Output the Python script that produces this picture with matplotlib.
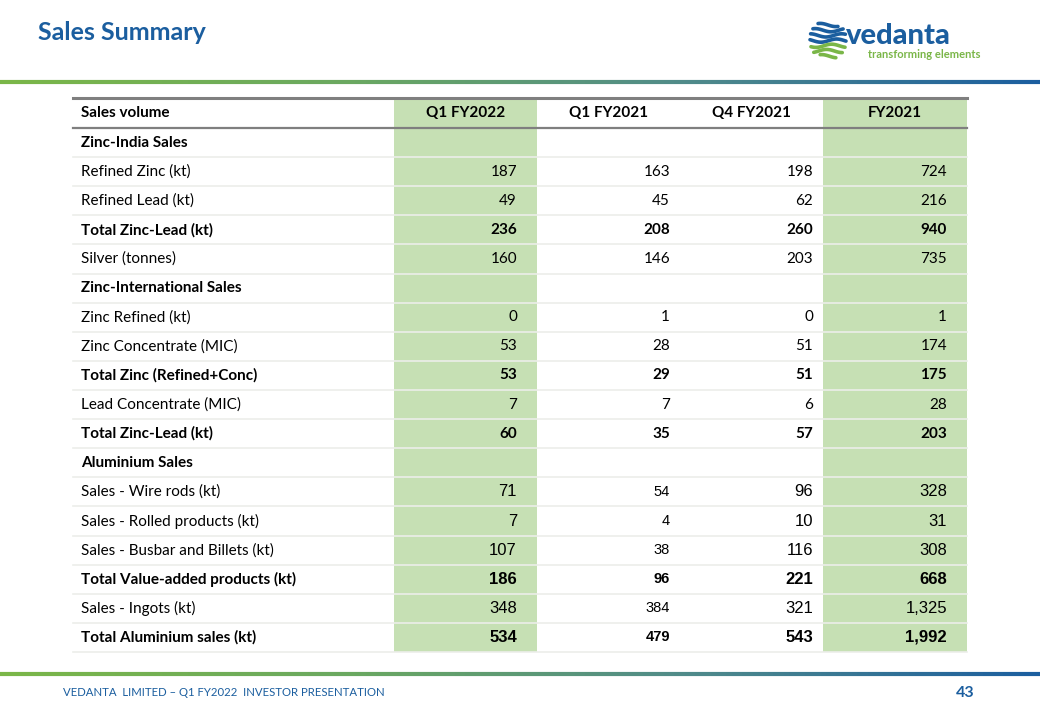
"""Sales summary slide rebuilt as a matplotlib table figure."""
import numpy as np
import matplotlib
matplotlib.use("Agg")
import matplotlib.pyplot as plt
from matplotlib.patches import Rectangle
from matplotlib.collections import LineCollection

# ---- data -------------------------------------------------------------
columns = ["Q1 FY2022", "Q1 FY2021", "Q4 FY2021", "FY2021"]
row_labels = [
    "Zinc-India Sales", "Refined Zinc (kt)", "Refined Lead (kt)",
    "Total Zinc-Lead (kt)", "Silver (tonnes)", "Zinc-International Sales",
    "Zinc Refined (kt)", "Zinc Concentrate (MIC)", "Total Zinc (Refined+Conc)",
    "Lead Concentrate (MIC)", "Total Zinc-Lead (kt)", "Aluminium Sales",
    "Sales - Wire rods (kt)", "Sales - Rolled products (kt)",
    "Sales - Busbar and Billets (kt)", "Total Value-added products (kt)",
    "Sales - Ingots (kt)", "Total Aluminium sales (kt)",
]
q1_fy2022 = ["", "187", "49", "236", "160", "", "0", "53", "53", "7", "60", "",
             "71", "7", "107", "186", "348", "534"]
q1_fy2021 = ["", "163", "45", "208", "146", "", "1", "28", "29", "7", "35", "",
             "54", "4", "38", "96", "384", "479"]
q4_fy2021 = ["", "198", "62", "260", "203", "", "0", "51", "51", "6", "57", "",
             "96", "10", "116", "221", "321", "543"]
fy2021 = ["", "724", "216", "940", "735", "", "1", "174", "175", "28", "203", "",
          "328", "31", "308", "668", "1,325", "1,992"]
bold_rows = [0, 3, 5, 8, 10, 11, 15, 17]
aluminium_rows = [12, 13, 14, 15, 16, 17]

BLUE = "#1b5e9f"
GREEN = "#7ab648"
CELL_GREEN = "#c6e0b4"
LABEL_FONT = ["Lato", "DejaVu Sans"]
NUM_FONT = ["Liberation Sans", "DejaVu Sans"]

W, H = 1040, 720
fig = plt.figure(figsize=(W / 100, H / 100), dpi=100)
ax = fig.add_axes([0, 0, 1, 1])
ax.set_xlim(0, W)
ax.set_ylim(H, 0)
ax.axis("off")


def gradient_line(y, lw):
    xs = np.linspace(0, W, 200)
    segs = [[(xs[i], y), (xs[i + 1], y)] for i in range(len(xs) - 1)]
    cmap = matplotlib.colors.LinearSegmentedColormap.from_list(
        "vg", [GREEN, "#6aa860", "#4f8a8a", BLUE])
    lc = LineCollection(segs, colors=cmap(np.linspace(0, 1, len(segs))),
                        linewidths=lw)
    ax.add_collection(lc)


# title + header bar
ax.text(38, 32, "Sales Summary", fontsize=18, fontweight="bold", color=BLUE,
        family=LABEL_FONT, va="center", ha="left")
gradient_line(82, 3)
gradient_line(674, 3)

# logo: striped globe + word mark
cx, cy, rad = 828, 40, 18
for k in range(7):
    yy = cy - rad + 3 + k * 5.2
    c = BLUE if k < 4 else GREEN
    half = np.sqrt(np.clip(rad ** 2 - (yy - cy) ** 2, 0, None))
    xs = np.linspace(cx - half, cx + half, 40)
    ax.plot(xs, yy + 1.6 * np.sin((xs - cx) / 5 + k), color=c, lw=2.6,
            solid_capstyle="round")
ax.text(846, 36, "vedanta", fontsize=21, fontweight="black", color=BLUE,
        family=LABEL_FONT, va="center", ha="left")
ax.text(868, 55, "transforming elements", fontsize=8, fontweight="bold",
        color=GREEN, family=LABEL_FONT, va="center", ha="left")

# table geometry
x_left, x_right = 73, 967
col_edges = [394, 537, 680, 823, 967]
num_right = [517, 670, 813, 947]
green_cols = [0, 3]
y_top, y_head = 98, 128
row_h = (652 - y_head) / len(row_labels)

for ci in green_cols:
    ax.add_patch(Rectangle((col_edges[ci], y_top), col_edges[ci + 1] - col_edges[ci],
                           652 - y_top, color=CELL_GREEN, lw=0))

for r in range(1, len(row_labels) + 1):
    yy = y_head + r * row_h
    ax.plot([x_left, x_right], [yy, yy], color="#eceeea", lw=1.2)
ax.plot([x_left, x_right], [y_top, y_top], color="#7f7f7f", lw=2.2)
ax.plot([x_left, x_right], [y_head, y_head], color="#7f7f7f", lw=1.6)

# header
ax.text(81, (y_top + y_head) / 2, "Sales volume", fontsize=11, fontweight="bold",
        family=LABEL_FONT, va="center", ha="left")
for ci, name in enumerate(columns):
    xc = (col_edges[ci] + col_edges[ci + 1]) / 2
    ax.text(xc, (y_top + y_head) / 2, name, fontsize=11, fontweight="bold",
            family=LABEL_FONT, va="center", ha="center")

# body
col_values = [q1_fy2022, q1_fy2021, q4_fy2021, fy2021]
for r, label in enumerate(row_labels):
    yc = y_head + (r + 0.5) * row_h
    wt = "bold" if r in bold_rows else "normal"
    ax.text(81, yc, label, fontsize=11, fontweight=wt, family=LABEL_FONT,
            va="center", ha="left")
    for ci, vals in enumerate(col_values):
        v = vals[r]
        if not v:
            continue
        if r in aluminium_rows:
            fam = NUM_FONT
            fs = 10.5 if ci == 1 else 12
        else:
            fam = LABEL_FONT
            fs = 11
        ax.text(num_right[ci], yc, v, fontsize=fs, fontweight=wt,
                family=fam, va="center", ha="right")

# footer
ax.text(63, 693, "VEDANTA  LIMITED \u2013 Q1 FY2022  INVESTOR PRESENTATION",
        fontsize=8.2, color=BLUE, family=LABEL_FONT, va="center", ha="left")
ax.text(975, 693, "43", fontsize=11.5, fontweight="bold", color=BLUE,
        family=LABEL_FONT, va="center", ha="right")

fig.savefig("out.png", dpi=100)
